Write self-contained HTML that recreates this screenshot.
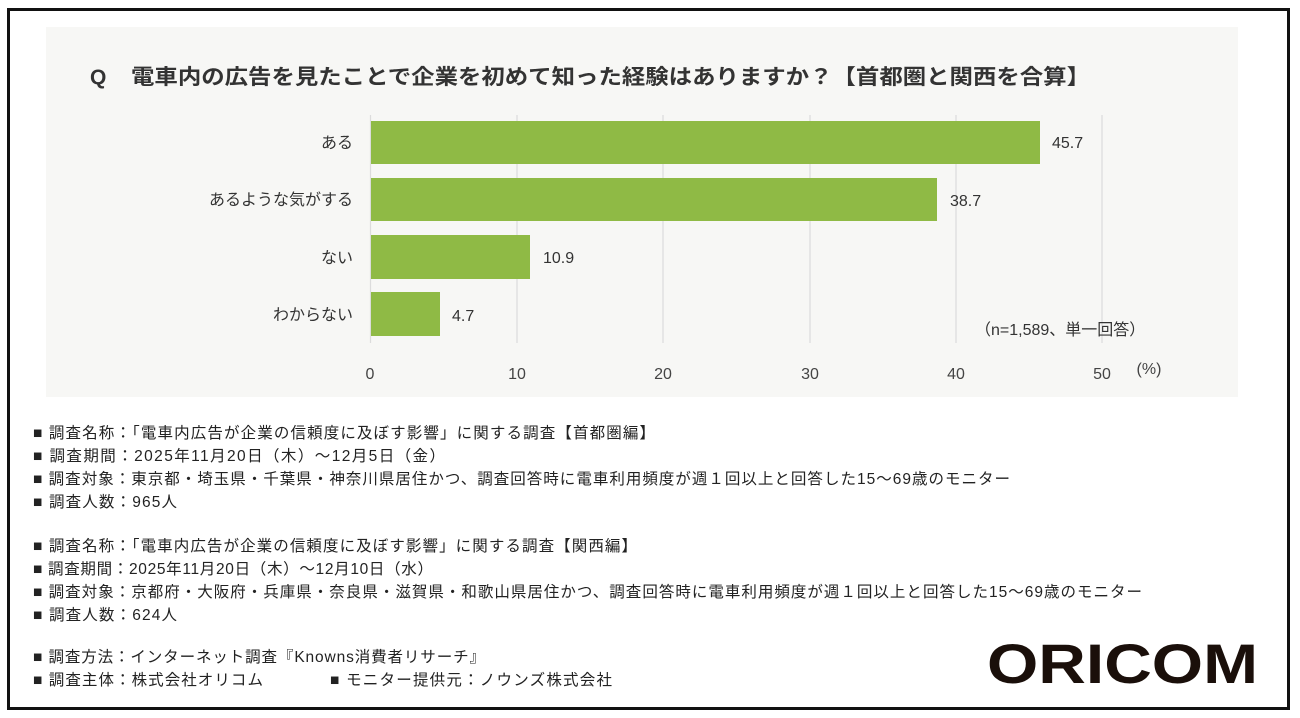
<!DOCTYPE html>
<html><head><meta charset="utf-8"><style>
html,body{margin:0;padding:0;background:#fff;}
svg{display:block;}
text{font-family:"Liberation Sans","Noto Sans CJK JP",sans-serif;}
</style></head><body>
<svg width="1300" height="718" viewBox="0 0 1300 718" xmlns="http://www.w3.org/2000/svg">
<rect x="0" y="0" width="1300" height="718" fill="#fff"/>
<rect x="8.5" y="9.5" width="1280" height="699" fill="none" stroke="#111" stroke-width="3"/>
<rect x="46" y="27" width="1192" height="370" fill="#f7f7f5"/>
<text x="90" y="84" font-size="21" font-weight="bold" fill="#333">Q</text>
<text x="131" y="84" font-size="21" font-weight="bold" fill="#333" textLength="959" lengthAdjust="spacingAndGlyphs">電車内の広告を見たことで企業を初めて知った経験はありますか？【首都圏と関西を合算】</text>
<g stroke="#dcdcdc" stroke-width="1.2">
<line x1="370.5" y1="115" x2="370.5" y2="343"/>
<line x1="517" y1="115" x2="517" y2="343"/>
<line x1="663" y1="115" x2="663" y2="343"/>
<line x1="810" y1="115" x2="810" y2="343"/>
<line x1="956" y1="115" x2="956" y2="343"/>
<line x1="1102" y1="115" x2="1102" y2="343"/>
</g>
<g fill="#8fba45">
<rect x="371" y="121" width="669" height="43"/>
<rect x="371" y="178" width="566" height="43"/>
<rect x="371" y="235" width="159" height="44"/>
<rect x="371" y="292" width="69" height="44"/>
</g>
<g font-size="16" fill="#333" text-anchor="end">
<text x="353" y="148">ある</text>
<text x="353" y="205">あるような気がする</text>
<text x="353" y="263">ない</text>
<text x="353" y="320">わからない</text>
</g>
<g font-size="16" fill="#333">
<text x="1052" y="148">45.7</text>
<text x="950" y="206">38.7</text>
<text x="543" y="263">10.9</text>
<text x="452" y="321">4.7</text>
<text x="975" y="335">（n=1,589、単一回答）</text>
</g>
<g font-size="16" fill="#444" text-anchor="middle">
<text x="370" y="379">0</text>
<text x="517" y="379">10</text>
<text x="663" y="379">20</text>
<text x="810" y="379">30</text>
<text x="956" y="379">40</text>
<text x="1102" y="379">50</text>
<text x="1149" y="374">(%)</text>
</g>
<g font-size="15.5" fill="#222" lengthAdjust="spacingAndGlyphs">
<text x="33" y="438" textLength="622">■ 調査名称：「電車内広告が企業の信頼度に及ぼす影響」に関する調査【首都圏編】</text>
<text x="33" y="461" textLength="412">■ 調査期間：2025年11月20日（木）～12月5日（金）</text>
<text x="33" y="484" textLength="977">■ 調査対象：東京都・埼玉県・千葉県・神奈川県居住かつ、調査回答時に電車利用頻度が週１回以上と回答した15～69歳のモニター</text>
<text x="33" y="507" textLength="144">■ 調査人数：965人</text>
<text x="33" y="551" textLength="604">■ 調査名称：「電車内広告が企業の信頼度に及ぼす影響」に関する調査【関西編】</text>
<text x="33" y="574" textLength="400">■ 調査期間：2025年11月20日（木）～12月10日（水）</text>
<text x="33" y="597" textLength="1109">■ 調査対象：京都府・大阪府・兵庫県・奈良県・滋賀県・和歌山県居住かつ、調査回答時に電車利用頻度が週１回以上と回答した15～69歳のモニター</text>
<text x="33" y="620" textLength="144">■ 調査人数：624人</text>
<text x="33" y="662" textLength="452">■ 調査方法：インターネット調査『Knowns消費者リサーチ』</text>
<text x="33" y="685" textLength="230">■ 調査主体：株式会社オリコム</text>
<text x="330" y="685" textLength="282">■ モニター提供元：ノウンズ株式会社</text>
</g>
<text x="987" y="683" font-size="56" font-weight="600" fill="#1a0f0a" textLength="271" lengthAdjust="spacingAndGlyphs">ORICOM</text>
</svg>
</body></html>
